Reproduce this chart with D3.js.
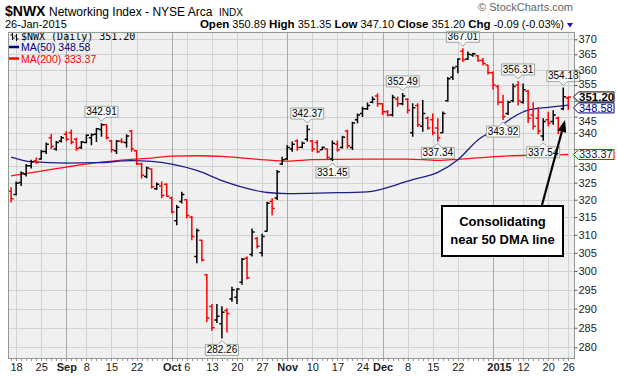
<!DOCTYPE html>
<html>
<head>
<meta charset="utf-8">
<script src="https://cdn.jsdelivr.net/npm/d3@7"></script>
<style>
  body { margin: 0; background: #fff; }
  svg { display: block; font-family: Arial, "Liberation Sans", sans-serif; }
</style>
</head>
<body>
<svg width="617" height="377"></svg>
<script>
// trading days shown, Aug 15 2014 .. Jan 26 2015
const dates = [
  "2014-08-15",
  "2014-08-18","2014-08-19","2014-08-20","2014-08-21","2014-08-22",
  "2014-08-25","2014-08-26","2014-08-27","2014-08-28","2014-08-29",
  "2014-09-02","2014-09-03","2014-09-04","2014-09-05",
  "2014-09-08","2014-09-09","2014-09-10","2014-09-11","2014-09-12",
  "2014-09-15","2014-09-16","2014-09-17","2014-09-18","2014-09-19",
  "2014-09-22","2014-09-23","2014-09-24","2014-09-25","2014-09-26",
  "2014-09-29","2014-09-30","2014-10-01","2014-10-02","2014-10-03",
  "2014-10-06","2014-10-07","2014-10-08","2014-10-09","2014-10-10",
  "2014-10-13","2014-10-14","2014-10-15","2014-10-16","2014-10-17",
  "2014-10-20","2014-10-21","2014-10-22","2014-10-23","2014-10-24",
  "2014-10-27","2014-10-28","2014-10-29","2014-10-30","2014-10-31",
  "2014-11-03","2014-11-04","2014-11-05","2014-11-06","2014-11-07",
  "2014-11-10","2014-11-11","2014-11-12","2014-11-13","2014-11-14",
  "2014-11-17","2014-11-18","2014-11-19","2014-11-20","2014-11-21",
  "2014-11-24","2014-11-25","2014-11-26","2014-11-28",
  "2014-12-01","2014-12-02","2014-12-03","2014-12-04","2014-12-05",
  "2014-12-08","2014-12-09","2014-12-10","2014-12-11","2014-12-12",
  "2014-12-15","2014-12-16","2014-12-17","2014-12-18","2014-12-19",
  "2014-12-22","2014-12-23","2014-12-24","2014-12-26",
  "2014-12-29","2014-12-30","2014-12-31","2015-01-02",
  "2015-01-05","2015-01-06","2015-01-07","2015-01-08","2015-01-09",
  "2015-01-12","2015-01-13","2015-01-14","2015-01-15","2015-01-16",
  "2015-01-20","2015-01-21","2015-01-22","2015-01-23",
  "2015-01-26"
];

const open = [
  322.5,
  321.5, 325.0, 327.5, 330.0, 331.5,
  332.0, 334.3, 338.5, 335.0, 337.5,
  339.5, 340.0, 338.0, 335.5,
  337.0, 338.5, 339.5, 341.0, 342.5,
  337.5, 334.5, 337.5, 337.0, 340.5,
  334.5, 330.5, 326.8, 329.0, 323.2,
  324.0, 324.5, 320.5, 314.0, 319.5,
  320.0, 315.0, 304.0, 308.5, 299.0,
  290.5, 287.0, 286.0, 289.5, 292.5,
  293.0, 297.0, 303.5, 304.5, 309.0,
  305.0, 311.0, 319.5, 320.5, 330.5,
  332.0, 335.0, 337.5, 335.6, 338.0,
  337.5, 337.0, 334.8, 335.0, 332.0,
  336.5, 335.5, 340.5, 335.5, 344.0,
  346.0, 347.5, 349.5, 351.5,
  349.0, 346.5, 345.5, 350.5, 349.0,
  350.5, 340.0, 348.5, 342.0, 344.5,
  344.0, 341.5, 340.0, 350.0, 357.5,
  361.0, 366.0, 363.5, 364.8,
  364.5, 363.0, 361.5, 359.0,
  354.5, 349.5, 346.0, 350.0, 355.0,
  349.5, 353.0, 345.5, 344.5, 339.0,
  344.0, 343.5, 344.5, 347.5,
  350.89
];
const high = [
  323.6,
  325.3, 328.3, 330.5, 331.8, 332.5,
  334.7, 337.0, 339.6, 337.5, 339.0,
  340.5, 341.0, 338.5, 337.5,
  339.5, 339.8, 341.5, 342.91, 342.6,
  337.8, 337.8, 338.3, 339.5, 340.9,
  334.7, 330.9, 329.7, 329.2, 325.0,
  325.3, 324.8, 320.9, 318.5, 322.3,
  320.1, 315.3, 311.8, 308.6, 299.2,
  291.2, 291.2, 290.6, 290.1, 295.8,
  295.4, 303.6, 304.0, 311.8, 309.4,
  310.3, 319.4, 320.4, 328.7, 332.7,
  336.2, 337.3, 338.0, 337.3, 342.37,
  337.8, 337.8, 335.8, 335.2, 337.6,
  337.6, 339.1, 340.9, 343.4, 346.0,
  348.1, 349.4, 351.3, 352.4,
  349.2, 347.1, 351.9, 351.3, 352.49,
  350.8, 349.2, 349.2, 350.2, 345.0,
  346.0, 344.5, 346.6, 357.6, 361.0,
  363.7, 367.01, 365.9, 365.5,
  364.8, 363.8, 361.5, 359.4,
  355.1, 351.9, 350.0, 355.5, 356.31,
  355.5, 353.5, 349.5, 348.0, 344.5,
  346.5, 347.0, 345.0, 354.18,
  351.35
];
const low = [
  319.2,
  321.2, 324.0, 326.8, 329.2, 330.6,
  331.8, 333.5, 335.0, 334.5, 337.0,
  337.5, 336.5, 334.5, 335.0,
  336.8, 336.2, 337.2, 338.8, 338.0,
  334.0, 333.5, 336.8, 335.5, 334.2,
  330.2, 326.2, 326.3, 323.3, 322.8,
  320.4, 320.9, 316.1, 312.7, 318.9,
  314.6, 308.5, 302.1, 302.6, 286.5,
  284.2, 286.2, 282.26, 283.8, 291.8,
  291.2, 296.3, 297.8, 304.0, 306.2,
  304.0, 310.9, 315.5, 319.9, 330.2,
  331.7, 334.2, 334.5, 335.3, 337.3,
  334.2, 333.8, 334.7, 331.7, 331.45,
  334.2, 335.2, 335.2, 334.7, 342.9,
  344.9, 347.1, 349.2, 348.1,
  345.5, 345.0, 345.0, 348.1, 348.6,
  346.0, 338.8, 341.8, 340.3, 340.9,
  339.2, 337.34, 339.9, 349.7, 356.6,
  358.8, 362.5, 363.1, 364.2,
  362.6, 361.3, 358.4, 353.6,
  348.6, 343.92, 345.5, 349.5, 348.5,
  349.0, 343.0, 341.0, 339.5, 337.54,
  342.0, 342.5, 339.5, 347.0,
  347.10
];
const close = [
  320.3,
  324.8, 327.8, 330.0, 331.2, 331.0,
  334.3, 336.5, 335.8, 337.0, 338.5,
  338.0, 337.2, 335.2, 337.2,
  339.2, 339.4, 341.2, 342.5, 338.5,
  334.8, 337.4, 337.2, 339.0, 335.0,
  330.6, 327.2, 329.3, 323.8, 324.5,
  321.2, 321.0, 316.5, 317.8, 321.5,
  315.5, 309.5, 311.2, 303.0, 287.5,
  285.0, 288.0, 289.0, 288.7, 295.0,
  295.2, 303.2, 298.2, 310.8, 306.8,
  309.5, 319.0, 317.5, 328.2, 331.8,
  335.5, 336.5, 335.5, 336.8, 341.0,
  335.0, 334.2, 335.5, 332.5, 336.8,
  334.8, 338.6, 336.0, 343.0, 345.5,
  347.5, 348.5, 350.5, 349.0,
  346.5, 345.5, 351.0, 349.0, 351.5,
  347.0, 347.8, 342.5, 346.0, 341.5,
  340.0, 338.5, 346.0, 357.0, 360.5,
  363.5, 363.2, 365.0, 365.2,
  363.0, 362.0, 359.0, 355.0,
  349.5, 345.0, 349.5, 354.5, 350.0,
  353.5, 344.5, 342.0, 340.5, 343.5,
  343.0, 345.5, 341.0, 351.29,
  351.20
];

// moving averages
const ma50Dates = ["2014-08-15","2014-08-21","2014-09-02","2014-09-10","2014-09-19","2014-09-25",
  "2014-10-01","2014-10-08","2014-10-15","2014-10-22","2014-10-28","2014-11-03","2014-11-13",
  "2014-11-25","2014-12-04","2014-12-09","2014-12-16","2014-12-22","2014-12-29","2015-01-05",
  "2015-01-08","2015-01-13","2015-01-20","2015-01-26"];
const ma50Values = [332.6,331.2,330.8,330.9,331.5,331.3,330.5,328.6,325.6,323.3,322.1,321.8,322.0,
  322.3,324.5,325.9,328.0,331.8,337.8,341.5,344.8,347.0,347.9,348.58];

const ma200Dates = ["2014-08-15","2014-08-25","2014-09-02","2014-09-10","2014-09-19","2014-09-25",
  "2014-10-01","2014-10-08","2014-10-15","2014-10-22","2014-10-29","2014-11-03","2014-11-10",
  "2014-11-24","2014-12-08","2014-12-16","2014-12-22","2014-12-31","2015-01-08","2015-01-16","2015-01-26"];
const ma200Values = [327.0,328.4,329.6,330.9,331.9,332.3,332.9,333.0,332.8,332.2,331.6,331.4,331.8,
  332.0,332.0,331.6,331.9,332.6,333.0,333.2,333.37];

// labelled swing highs / lows
const peakDates = ["2014-09-11","2014-11-07","2014-12-05","2014-12-23","2015-01-09","2015-01-23"];
const troughDates = ["2014-10-15","2014-11-14","2014-12-16","2015-01-06","2015-01-16"];

// axes
const tickDates = ["2014-08-18","2014-08-25","2014-09-02","2014-09-08","2014-09-15","2014-09-22",
  "2014-10-01","2014-10-06","2014-10-13","2014-10-20","2014-10-27","2014-11-03","2014-11-10",
  "2014-11-17","2014-11-24","2014-12-01","2014-12-08","2014-12-15","2014-12-22","2015-01-02",
  "2015-01-12","2015-01-20","2015-01-26"];
const tickLabels = ["18","25","Sep","8","15","22","Oct","6","13","20","27","Nov","10","17","24",
  "Dec","8","15","22","2015","12","20","26"];
const monthLabels = ["Sep","Oct","Nov","Dec","2015"];
const priceTicks = d3.range(280, 371, 5);

const svg = d3.select("svg");
const plot = { left: 8, right: 574.5, top: 31.5, bottom: 359 };

const x = d3.scalePoint().domain(dates).range([plot.left + 3.1, plot.right - 6.2]);
const y = d3.scaleLog().domain([280, 370]).range([347.3, 39.3]);

const n = dates.length;
const last = n - 1;

// ---- header ----
svg.append("text").attr("x", 5).attr("y", 16)
  .attr("font-size", 14).attr("font-weight", "bold").text("$NWX");
const t1 = svg.append("text").attr("x", 49).attr("y", 16).attr("font-size", 12)
  .style("white-space", "pre");
t1.append("tspan").text("Networking Index - NYSE Arca  ");
t1.append("tspan").attr("font-size", 10).text("INDX");

svg.append("text").attr("x", 573).attr("y", 11).attr("text-anchor", "end")
  .attr("font-size", 11).attr("fill", "#666").text("\u00A9 StockCharts.com");

svg.append("text").attr("x", 5).attr("y", 28).attr("font-size", 11).text("26-Jan-2015");

const chg = close[last] - close[last - 1];
const pct = chg / close[last - 1] * 100;
const hdr = svg.append("text").attr("x", 564).attr("y", 28).attr("text-anchor", "end")
  .style("white-space", "pre");
[["Open", true], [" " + open[last].toFixed(2) + " ", false],
 ["High", true], [" " + high[last].toFixed(2) + " ", false],
 ["Low", true], [" " + low[last].toFixed(2) + " ", false],
 ["Close", true], [" " + close[last].toFixed(2) + " ", false],
 ["Chg", true], [" " + chg.toFixed(2) + " (" + pct.toFixed(2) + "%)", false]]
  .forEach(([s, b]) => {
    hdr.append("tspan").attr("font-size", b ? 11.5 : 11)
      .attr("font-weight", b ? "bold" : "normal").text(s);
  });
svg.append("path").attr("d", "M567,23 L573,23 L570,27.5 Z").attr("fill", "#1010d0");

// ---- plot background + grid ----
svg.append("rect")
  .attr("x", plot.left).attr("y", plot.top)
  .attr("width", plot.right - plot.left).attr("height", plot.bottom - plot.top)
  .attr("fill", "#f0f0f0");

svg.append("defs").append("clipPath").attr("id", "clip")
  .append("rect")
  .attr("x", plot.left).attr("y", plot.top)
  .attr("width", plot.right - plot.left).attr("height", plot.bottom - plot.top);

const grid = svg.append("g").attr("shape-rendering", "crispEdges");
grid.selectAll("line.h").data(priceTicks).enter().append("line")
  .attr("x1", plot.left).attr("x2", plot.right)
  .attr("y1", d => Math.round(y(d)) + 0.5).attr("y2", d => Math.round(y(d)) + 0.5)
  .attr("stroke", "#d2d2d2");
grid.selectAll("line.v").data(tickDates).enter().append("line")
  .attr("x1", d => Math.round(x(d)) + 0.5).attr("x2", d => Math.round(x(d)) + 0.5)
  .attr("y1", plot.top).attr("y2", plot.bottom)
  .attr("stroke", (d, i) => monthLabels.includes(tickLabels[i]) ? "#a9a9a9" : "#d2d2d2");

// ---- legend ----
const leg = svg.append("g");
leg.append("path")
  .attr("d", "M12.5,33 V40 M10.5,35 H12.5 M12.5,38 H14.5 M16.5,34 V41 M14.5,36 H16.5 M16.5,39 H18.5")
  .attr("stroke", "#000").attr("fill", "none");
leg.append("text").attr("x", 21).attr("y", 40)
  .attr("font-family", "'DejaVu Sans Mono', monospace").attr("font-size", 10)
  .text("$NWX (Daily) " + close[last].toFixed(2));
leg.append("line").attr("x1", 9).attr("x2", 19).attr("y1", 47).attr("y2", 47)
  .attr("stroke", "#000080").attr("stroke-width", 2.5);
leg.append("text").attr("x", 21).attr("y", 51).attr("font-size", 10.5).attr("fill", "#000080")
  .text("MA(50) " + ma50Values[ma50Values.length - 1].toFixed(2));
leg.append("line").attr("x1", 9).attr("x2", 19).attr("y1", 58.5).attr("y2", 58.5)
  .attr("stroke", "#ff0000").attr("stroke-width", 2.5);
leg.append("text").attr("x", 21).attr("y", 62.5).attr("font-size", 10.5).attr("fill", "#ff0000")
  .text("MA(200) " + ma200Values[ma200Values.length - 1].toFixed(2));

// ---- moving averages ----
const body = svg.append("g").attr("clip-path", "url(#clip)");
const maLine = d3.line().x(d => x(d[0])).y(d => y(d[1])).curve(d3.curveMonotoneX);

body.append("path")
  .attr("d", maLine(d3.zip(ma200Dates, ma200Values)))
  .attr("fill", "none").attr("stroke", "#ff1010").attr("stroke-width", 1.3);
body.append("path")
  .attr("d", maLine(d3.zip(ma50Dates, ma50Values)))
  .attr("fill", "none").attr("stroke", "#1c1c8e").attr("stroke-width", 1.3);

// ---- OHLC bars ----
const idx = d3.range(n);
body.selectAll("path.bar").data(idx).enter().append("path")
  .attr("class", "bar")
  .attr("d", i => {
    const cx = x(dates[i]);
    return `M${cx},${y(high[i])}V${y(low[i])}` +
      `M${cx - 2.6},${y(open[i])}H${cx}` +
      `M${cx},${y(close[i])}H${cx + 2.6}`;
  })
  .attr("fill", "none")
  .attr("stroke-width", 1.5)
  .attr("stroke", i => {
    const prev = i === 0 ? open[0] : close[i - 1];
    return close[i] < prev ? "#ff0000" : "#000000";
  });

// ---- swing labels ----
function tag(d, value, above) {
  const cx = x(d);
  const cy = y(value);
  const w = 33, h = 11;
  const g = svg.append("g");
  let path, ty;
  if (above) {
    const b = cy - 6, t = b - h;
    path = `M${cx - w / 2},${t}H${cx + w / 2}V${b}H${cx + 4}L${cx},${b + 4}L${cx - 4},${b}H${cx - w / 2}Z`;
    ty = b - 2.2;
  } else {
    const t = cy + 6, b = t + h;
    path = `M${cx - w / 2},${t}H${cx - 4}L${cx},${t - 4}L${cx + 4},${t}H${cx + w / 2}V${b}H${cx - w / 2}Z`;
    ty = b - 2.2;
  }
  g.append("path").attr("d", path).attr("fill", "#f7f8f7").attr("stroke", "#9aa89a");
  g.append("text").attr("x", cx).attr("y", ty).attr("text-anchor", "middle")
    .attr("font-size", 10).text(value.toFixed(2));
}
peakDates.forEach(d => tag(d, high[dates.indexOf(d)], true));
troughDates.forEach(d => tag(d, low[dates.indexOf(d)], false));

// ---- frame ----
svg.append("rect")
  .attr("x", plot.left + 0.5).attr("y", plot.top + 0.5)
  .attr("width", plot.right - plot.left - 1).attr("height", plot.bottom - plot.top - 1)
  .attr("fill", "none").attr("stroke", "#8f9a8f").attr("shape-rendering", "crispEdges");

// daily ticks under the plot
svg.append("g").selectAll("line").data(dates).enter().append("line")
  .attr("x1", d => Math.round(x(d)) + 0.5).attr("x2", d => Math.round(x(d)) + 0.5)
  .attr("y1", plot.bottom).attr("y2", plot.bottom + 2)
  .attr("stroke", "#999");

// ---- last-value boxes positions (needed to place axis labels around them) ----
const ma50Last = ma50Values[ma50Values.length - 1];
const ma200Last = ma200Values[ma200Values.length - 1];
const cPrice = y(close[last]);
const tagH = 5;
const valueTags = [
  { v: ma200Last, cy: y(ma200Last), stroke: "#ff0000", color: "#222", bold: false },
  { v: ma50Last, cy: Math.max(y(ma50Last), cPrice + 2 * tagH + 1), stroke: "#000080", color: "#000080", bold: false },
  { v: close[last], cy: cPrice, stroke: "#000", color: "#000", bold: true }
];

// ---- axes ----
const yAxis = svg.append("g")
  .attr("transform", `translate(${plot.right},0)`)
  .call(d3.axisRight(y).tickValues(priceTicks).tickFormat(d3.format("d")).tickSize(3).tickPadding(1));
yAxis.select(".domain").remove();
yAxis.selectAll("text").attr("font-size", 11).attr("font-family", "Arial, 'Liberation Sans', sans-serif")
  .attr("fill", "#222");
yAxis.selectAll("line").attr("stroke", "#555");
// labels behind a value box: hidden if (nearly) covered, pushed clear if only grazed
const gap = 12.6;
yAxis.selectAll(".tick").each(function (d) {
  const ty = y(d);
  const near = valueTags.map(t => ty - t.cy).sort((a, b) => Math.abs(a) - Math.abs(b))[0];
  const txt = d3.select(this).select("text");
  if (Math.abs(near) < 6) txt.remove();
  else if (Math.abs(near) < gap) txt.attr("y", Math.sign(near) * (gap - Math.abs(near)));
});

const xAxis = svg.append("g")
  .attr("transform", `translate(0,${plot.bottom})`)
  .call(d3.axisBottom(x).tickValues(tickDates).tickFormat((d, i) => tickLabels[i]).tickSize(0).tickPadding(4));
xAxis.select(".domain").remove();
xAxis.selectAll("text")
  .attr("font-size", 11).attr("font-family", "Arial, 'Liberation Sans', sans-serif").attr("fill", "#222")
  .attr("font-weight", (d, i) => monthLabels.includes(tickLabels[i]) ? "bold" : "normal")
  .attr("dx", (d, i) => tickLabels[i] === "2015" ? 6 : 0);

// ---- last-value boxes on the price axis ----
function valueTag(t) {
  const tip = plot.right - 1, l = tip + 5, r = 614;
  svg.append("path")
    .attr("d", `M${tip},${t.cy}L${l},${t.cy - tagH}H${r}V${t.cy + tagH}H${l}Z`)
    .attr("fill", "#fff").attr("stroke", t.stroke);
  svg.append("text").attr("x", l + 0.5).attr("y", t.cy + 3.8)
    .attr("font-size", t.bold ? 11.5 : 11).attr("font-weight", t.bold ? "bold" : "normal")
    .attr("fill", t.color).text(t.v.toFixed(2));
}
valueTags.forEach(valueTag);

// ---- annotation ----
const note = svg.append("g");
note.append("rect").attr("x", 442).attr("y", 206).attr("width", 121).attr("height", 50)
  .attr("fill", "#fff").attr("stroke", "#000").attr("stroke-width", 2);
note.append("text").attr("x", 502.5).attr("y", 226).attr("text-anchor", "middle")
  .attr("font-size", 13).attr("font-weight", "bold").text("Consolidating");
note.append("text").attr("x", 502.5).attr("y", 244).attr("text-anchor", "middle")
  .attr("font-size", 13).attr("font-weight", "bold").text("near 50 DMA line");

// arrow from the box up to the 50-day line
const ax0 = 542, ay0 = 205, ax1 = 565, ay1 = 120;
const ang = Math.atan2(ay1 - ay0, ax1 - ax0);
const hl = 12, hw = 4.5;
const bx = ax1 - hl * Math.cos(ang), by = ay1 - hl * Math.sin(ang);
note.append("line").attr("x1", ax0).attr("y1", ay0).attr("x2", bx).attr("y2", by)
  .attr("stroke", "#000").attr("stroke-width", 2.2);
note.append("path")
  .attr("d", `M${ax1},${ay1}L${bx + hw * Math.sin(ang)},${by - hw * Math.cos(ang)}` +
    `L${bx - hw * Math.sin(ang)},${by + hw * Math.cos(ang)}Z`)
  .attr("fill", "#000");
</script>
</body>
</html>
